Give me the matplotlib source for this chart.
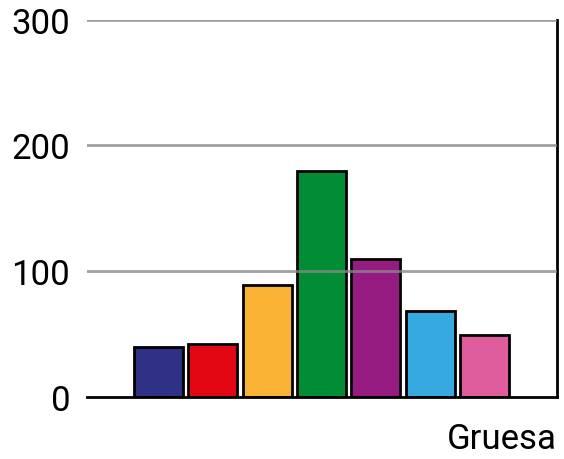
import matplotlib.pyplot as plt
import numpy as np

plt.rcParams['font.family'] = ['Roboto', 'DejaVu Sans']

# Data
values = [40, 42, 89, 180, 110, 68, 49]
colors = ['#2e3184', '#e30613', '#f9b233', '#008d36', '#951b81', '#36a9e1', '#e05d9d']
yticks = [0, 100, 200, 300]
category = "Gruesa"

fig = plt.figure(figsize=(5.64, 4.60), dpi=100)
ax = fig.add_axes([0.154, 0.135, 0.834, 0.82])

x = np.arange(len(values))
ax.bar(x, values, width=0.9, color=colors, edgecolor='black', linewidth=2, zorder=2)

ax.set_ylim(0, 300)
ax.set_xlim(-1.32, len(values) - 1 + 1.34)
ax.set_yticks(yticks)
ax.set_yticklabels([str(v) for v in yticks], fontsize=25)
ax.set_xticks([])
ax.tick_params(axis='y', length=0, pad=12)

# grid lines on top of the bars, semi-transparent
for v in yticks[1:]:
    ax.axhline(v, color='#888888', linewidth=2, alpha=0.8, zorder=3)

for s in ['top', 'left']:
    ax.spines[s].set_visible(False)
ax.spines['bottom'].set_linewidth(2)
ax.spines['right'].set_linewidth(2)
ax.spines['bottom'].set_zorder(4)

ax.set_xlabel(category, loc='right', fontsize=25, labelpad=18)

fig.savefig('out.png', dpi=100)
